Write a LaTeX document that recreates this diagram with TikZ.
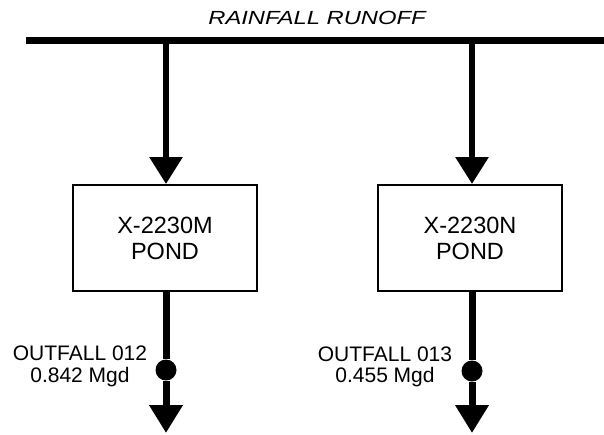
\documentclass[tikz,border=0pt]{standalone}
\usepackage{fontspec}
\setmainfont{Liberation Sans}
\usetikzlibrary{arrows.meta}
\begin{document}
\begin{tikzpicture}[x=1pt,y=-1pt]
\tikzset{
  pondbox/.style={draw, line width=2pt, minimum width=184pt, minimum height=106pt,
    align=center, inner sep=0pt, font=\fontsize{23.5}{26}\selectfont},
  flow/.style={line width=6pt, -{Triangle[width=32pt,length=27pt]}},
  outflow/.style={line width=7pt, -{Triangle[width=32pt,length=28pt]}},
  stem/.style={line width=7pt},
  bar/.style={line width=7pt},
  dot/.style={circle, fill=black, minimum size=21pt, inner sep=0pt},
  outlbl/.style={align=center, inner sep=0pt, font=\fontsize{21}{21.5}\selectfont},
  titletext/.style={inner sep=0pt, font=\fontsize{19}{20}\selectfont\itshape}
}
\useasboundingbox (0,0) rectangle (604,434);
% top bar
\coordinate (barL) at (26,40.5);
\coordinate (barR) at (604,40.5);
\draw[bar] (barL) -- (barR);
\node[titletext] (title) at (317,18) {\scalebox{1.25}[1]{RAINFALL RUNOFF}};
% ponds
\node[pondbox] (pm) at (165,238) {X-2230M\\POND};
\node[pondbox] (pn) at (470,238) {X-2230N\\POND};
% inflows
\coordinate (tm) at (166,40.5);
\coordinate (tn) at (472,40.5);
\draw[flow] (tm) -- (tm |- pm.north);
\draw[flow] (tn) -- (tn |- pn.north);
% outfall dots
\node[dot] (dm) at (166,370) {};
\node[dot] (dn) at (472,371) {};
\coordinate (em) at (166,433);
\coordinate (en) at (472,433);
\draw[stem] (dm |- pm.south) -- (dm);
\draw[stem] (dn |- pn.south) -- (dn);
\draw[outflow] (dm) -- (em);
\draw[outflow] (dn) -- (en);
% labels
\node[outlbl] (om) at (80,366.5) {OUTFALL 012\\0.842 Mgd};
\node[outlbl] (on) at (385,367) {OUTFALL 013\\0.455 Mgd};
\end{tikzpicture}
\end{document}
